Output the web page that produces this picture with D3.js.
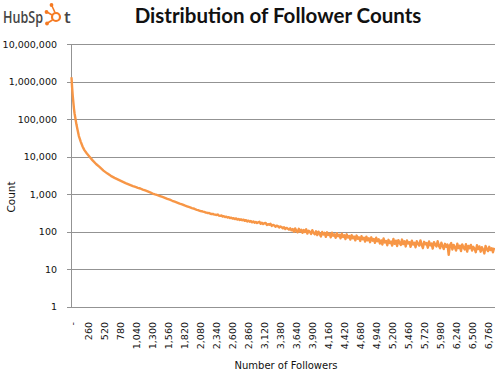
<!DOCTYPE html>
<html>
<head>
<meta charset="utf-8">
<script src="https://cdn.jsdelivr.net/npm/d3@7"></script>
<style>
  html, body { margin: 0; padding: 0; background: #fff; }
  svg { display: block; }
  .tick text { font-family: "DejaVu Sans", sans-serif; font-size: 9.5px; fill: #111; }
</style>
</head>
<body>
<svg id="chart" width="495" height="375"></svg>
<script>
// follower bins 0..1960 (uneven spacing, steep head of the curve)
const headFollowers = [0, 10, 20, 30, 40, 50, 65, 80, 100, 120, 150, 180, 210, 250, 290, 340, 400, 460,
  520, 580, 640, 700, 760, 820, 880, 940, 1000, 1040, 1080, 1120, 1160, 1200, 1240, 1280, 1320, 1360,
  1400, 1440, 1480, 1520, 1560, 1600, 1640, 1680, 1720, 1760, 1800, 1840, 1880, 1920, 1960]
const headCounts = [1300000, 700000, 420000, 280000, 190000, 140000, 100000, 72000, 50000, 35000, 25000,
  18500, 14800, 12000, 10000, 8000, 6300, 5200, 4200, 3550, 3050, 2700, 2420, 2180, 1960, 1780, 1620,
  1540, 1460, 1400, 1310, 1240, 1170, 1100, 1030, 975, 930, 880, 835, 790, 740, 705, 660, 625, 590, 555,
  530, 495, 470, 445, 420]

// noisy tail: one bin every 20 followers from 2,000
const tailStart = 2000
const tailStep = 20
const tailCounts = [
  405, 388, 379, 372, 360, 352, 348, 338, 333, 322, 318, 309, 312, 298, 293, 296, 283, 281, 276, 284,
  266, 262, 268, 251, 256, 244, 249, 236, 242, 228, 234, 221, 226, 214, 224, 208, 216, 203, 211, 199,
  207, 192, 201, 186, 195, 183, 190, 176, 186, 171,
  180, 168, 175, 181, 160, 171, 158, 166, 170, 149, 157, 152, 160, 141, 150, 146, 134, 143, 139, 128,
  136, 131, 122, 130, 117, 125, 119, 112, 121, 108,
  116, 98, 121, 104, 95, 118, 100, 112, 92, 109, 97, 115, 88, 104, 99, 86, 108, 93, 84, 101,
  80, 99, 86, 74, 97, 83, 92, 72, 95, 81, 88, 70, 93, 77, 84, 68, 90, 75, 82, 66,
  87, 71, 79, 63, 84, 69, 76, 61, 80, 66, 73, 58, 78, 64, 70, 56, 75, 62, 68, 54,
  73, 58, 66, 52, 70, 57, 63, 50, 68, 55,
  62, 48, 58, 45, 65, 51, 56, 43, 60, 49, 54, 42, 63, 47, 57, 41, 59, 50, 44, 61,
  46, 55, 40, 58, 48, 52, 39, 57, 45, 50, 38, 55, 47, 42, 58, 44, 36, 53, 46, 49,
  37, 54, 43, 48, 35, 52, 45, 40, 55, 42,
  36, 50, 41, 34, 47, 39, 45, 24, 43, 49, 33, 44, 38, 31, 47, 36, 42, 30, 45, 38,
  33, 46, 29, 41, 36, 44, 31, 39, 35, 28, 43, 34, 40, 29, 38, 33, 26, 41, 34, 30,
  39, 32, 36, 28, 37]

const xTicks = [0, 260, 520, 780, 1040, 1300, 1560, 1820, 2080, 2340, 2600, 2860, 3120, 3380, 3640,
  3900, 4160, 4420, 4680, 4940, 5200, 5460, 5720, 5980, 6240, 6500, 6760]
const yTicks = [1, 10, 100, 1000, 10000, 100000, 1000000, 10000000]

const titleText = "Distribution of Follower Counts"
const xTitle = "Number of Followers"
const yTitle = "Count"

const series = headFollowers.map((f, i) => ({ f, c: headCounts[i] }))
  .concat(tailCounts.map((c, i) => ({ f: tailStart + i * tailStep, c })))

const svg = d3.select("#chart")
const plotL = 71, plotR = 495, plotT = 44, plotB = 306.5
const gridColor = "#939393"

const x = d3.scaleLinear().domain([0, 6760]).range([plotL + 0.5, 486.8])
const y = d3.scaleLog().domain([1, 1e7]).range([plotB, plotT])

// gridlines (also the little outside ticks on the left)
svg.append("g")
  .attr("transform", `translate(${plotR},0)`)
  .call(d3.axisLeft(y).tickValues(yTicks).tickSize(plotR - plotL + 4).tickFormat(""))
  .call(g => g.select(".domain").remove())
  .call(g => g.selectAll("line").attr("stroke", gridColor).attr("shape-rendering", "crispEdges"))

// y labels
svg.append("g")
  .attr("transform", `translate(${plotL},0)`)
  .call(d3.axisLeft(y).tickValues(yTicks).tickSize(0).tickPadding(14).tickFormat(d3.format(",")))
  .call(g => g.select(".domain").remove())

// left axis line
svg.append("line")
  .attr("x1", plotL).attr("x2", plotL).attr("y1", plotT).attr("y2", plotB)
  .attr("stroke", gridColor).attr("shape-rendering", "crispEdges")

// x labels, rotated
svg.append("g")
  .attr("transform", `translate(0,${plotB})`)
  .call(d3.axisBottom(x).tickValues(xTicks).tickSize(0)
    .tickFormat(d => d === 0 ? "-" : d3.format(",")(d)))
  .call(g => g.select(".domain").remove())
  .call(g => g.selectAll("text")
    .attr("transform", "rotate(-90)")
    .attr("text-anchor", "end")
    .attr("x", -15.5).attr("y", 1).attr("dy", "0.35em"))

// the curve
svg.append("path")
  .datum(series)
  .attr("fill", "none")
  .attr("stroke", "#f79646")
  .attr("stroke-width", 2.4)
  .attr("stroke-linejoin", "round")
  .attr("d", d3.line().x(d => x(d.f)).y(d => y(d.c)))

// titles
svg.append("text")
  .attr("x", 278).attr("y", 23)
  .attr("text-anchor", "middle")
  .style("font-family", "Lato, sans-serif").style("font-weight", 700).style("font-size", "20.5px")
  .attr("fill", "#111")
  .text(titleText)

svg.append("text")
  .attr("x", 286).attr("y", 369)
  .attr("text-anchor", "middle")
  .style("font-family", "DejaVu Sans, sans-serif").style("font-size", "10px")
  .attr("fill", "#111")
  .text(xTitle)

svg.append("text")
  .attr("transform", "translate(15,197) rotate(-90)")
  .attr("text-anchor", "middle")
  .style("font-family", "DejaVu Sans, sans-serif").style("font-size", "10.5px")
  .attr("fill", "#111")
  .text(yTitle)

// HubSpot logo
const logo = svg.append("g").attr("fill", "#454545")
  .style("font-family", "Open Sans, sans-serif").style("font-size", "17px").style("font-weight", 600)
logo.append("text").attr("x", 3).attr("y", 23)
  .attr("textLength", 40).attr("lengthAdjust", "spacingAndGlyphs").text("HubSp")
logo.append("text").attr("x", 64).attr("y", 23).text("t")
const sp = svg.append("g").attr("stroke", "#f57a22").attr("fill", "#f57a22")
sp.append("circle").attr("cx", 56).attr("cy", 17).attr("r", 4).attr("fill", "none").attr("stroke-width", 2.2)
sp.selectAll("line").data([[55, 12.5, 52, 6], [52.5, 20, 47.5, 23], [52, 15, 47, 12]]).enter().append("line")
  .attr("x1", d => d[0]).attr("y1", d => d[1]).attr("x2", d => d[2]).attr("y2", d => d[3])
  .attr("stroke-width", 1.6)
sp.selectAll("circle.dot").data([[51.5, 5], [47, 23.5], [46.5, 12]]).enter().append("circle")
  .attr("class", "dot").attr("cx", d => d[0]).attr("cy", d => d[1]).attr("r", 1.9).attr("stroke", "none")
</script>
</body>
</html>
